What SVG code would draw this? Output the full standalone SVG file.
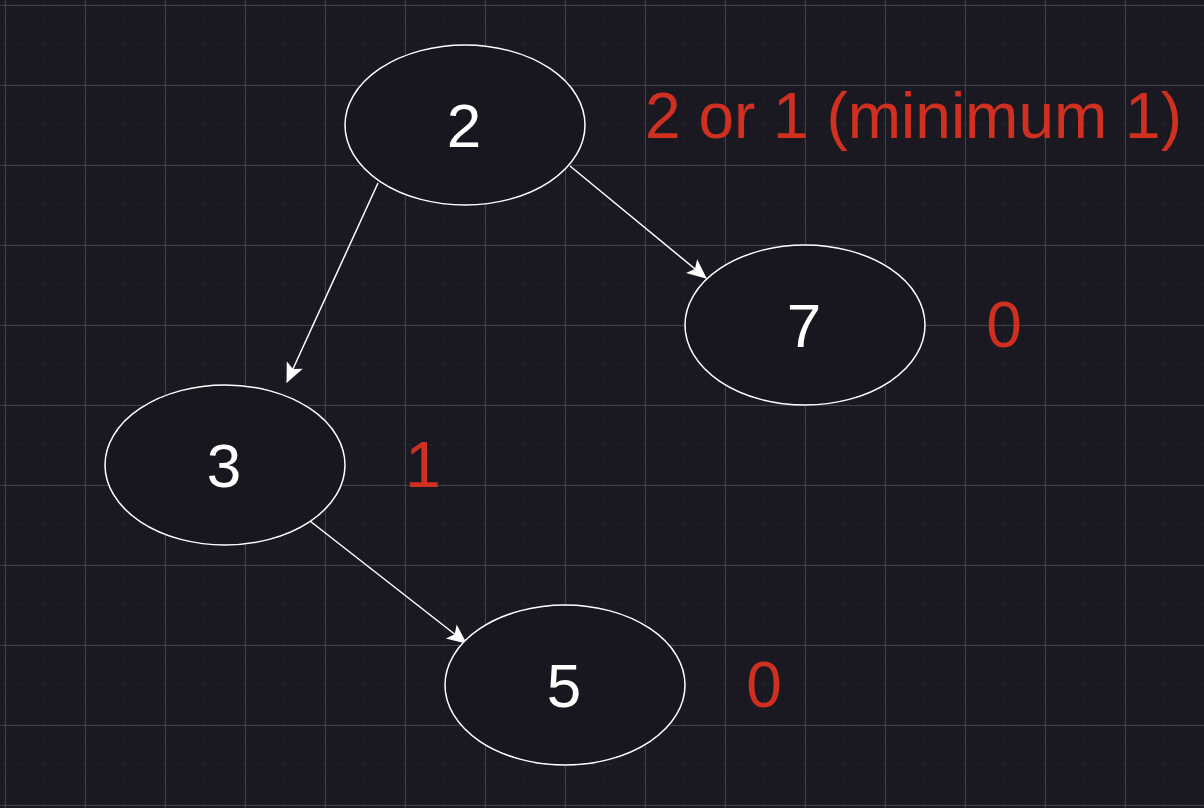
<svg xmlns="http://www.w3.org/2000/svg" width="1204" height="808" viewBox="0 0 1204 808">
<defs>
<pattern id="minor" x="5" y="5" width="40" height="40" patternUnits="userSpaceOnUse">
<path d="M40 0V40M0 40H40" fill="none" stroke="#2a2a34" stroke-width="1" stroke-dasharray="6 6"/>
</pattern>
<pattern id="major" x="5" y="5" width="80" height="80" patternUnits="userSpaceOnUse">
<path d="M0 0V80M0 0H80" fill="none" stroke="#3f3e49" stroke-width="2"/>
</pattern>
<marker id="arr" viewBox="0 0 20 20" refX="18" refY="10" markerWidth="22" markerHeight="22" markerUnits="userSpaceOnUse" orient="auto">
<path d="M1 2L19 10L1 18L5 10Z" fill="#ffffff"/>
</marker>
</defs>
<style>
.node ellipse{fill:#18171f;stroke:#ffffff;stroke-width:1.5}
.node text{fill:#ffffff;font-family:"Liberation Sans",Arial,sans-serif;font-size:62px;text-anchor:middle}
.lbl{fill:#d0301f;font-family:"Liberation Sans",Arial,sans-serif;font-size:64px}
.edge{stroke:#ffffff;stroke-width:1.5;fill:none;marker-end:url(#arr)}
</style>
<rect width="1204" height="808" fill="#1a1922"/>
<rect width="1204" height="808" fill="url(#minor)"/>
<rect width="1204" height="808" fill="url(#major)"/>
<g id="connectors">
<line class="edge" x1="378" y1="183" x2="287" y2="382"/>
<line class="edge" x1="570" y1="166" x2="706" y2="278"/>
<line class="edge" x1="310" y1="521" x2="466" y2="643"/>
</g>
<g id="node-2" class="node"><ellipse cx="465" cy="125" rx="120" ry="80"/><text x="464" y="147">2</text></g>
<g id="node-7" class="node"><ellipse cx="805" cy="325" rx="120" ry="80"/><text x="804" y="347">7</text></g>
<g id="node-3" class="node"><ellipse cx="225" cy="465" rx="120" ry="80"/><text x="224" y="487">3</text></g>
<g id="node-5" class="node"><ellipse cx="565" cy="685" rx="120" ry="80"/><text x="564" y="707">5</text></g>
<g id="labels">
<text class="lbl" x="645" y="138">2 or 1 (minimum 1)</text>
<text class="lbl" x="1004" y="347" text-anchor="middle">0</text>
<text class="lbl" x="423" y="487" text-anchor="middle">1</text>
<text class="lbl" x="764" y="707" text-anchor="middle">0</text>
</g>
</svg>
